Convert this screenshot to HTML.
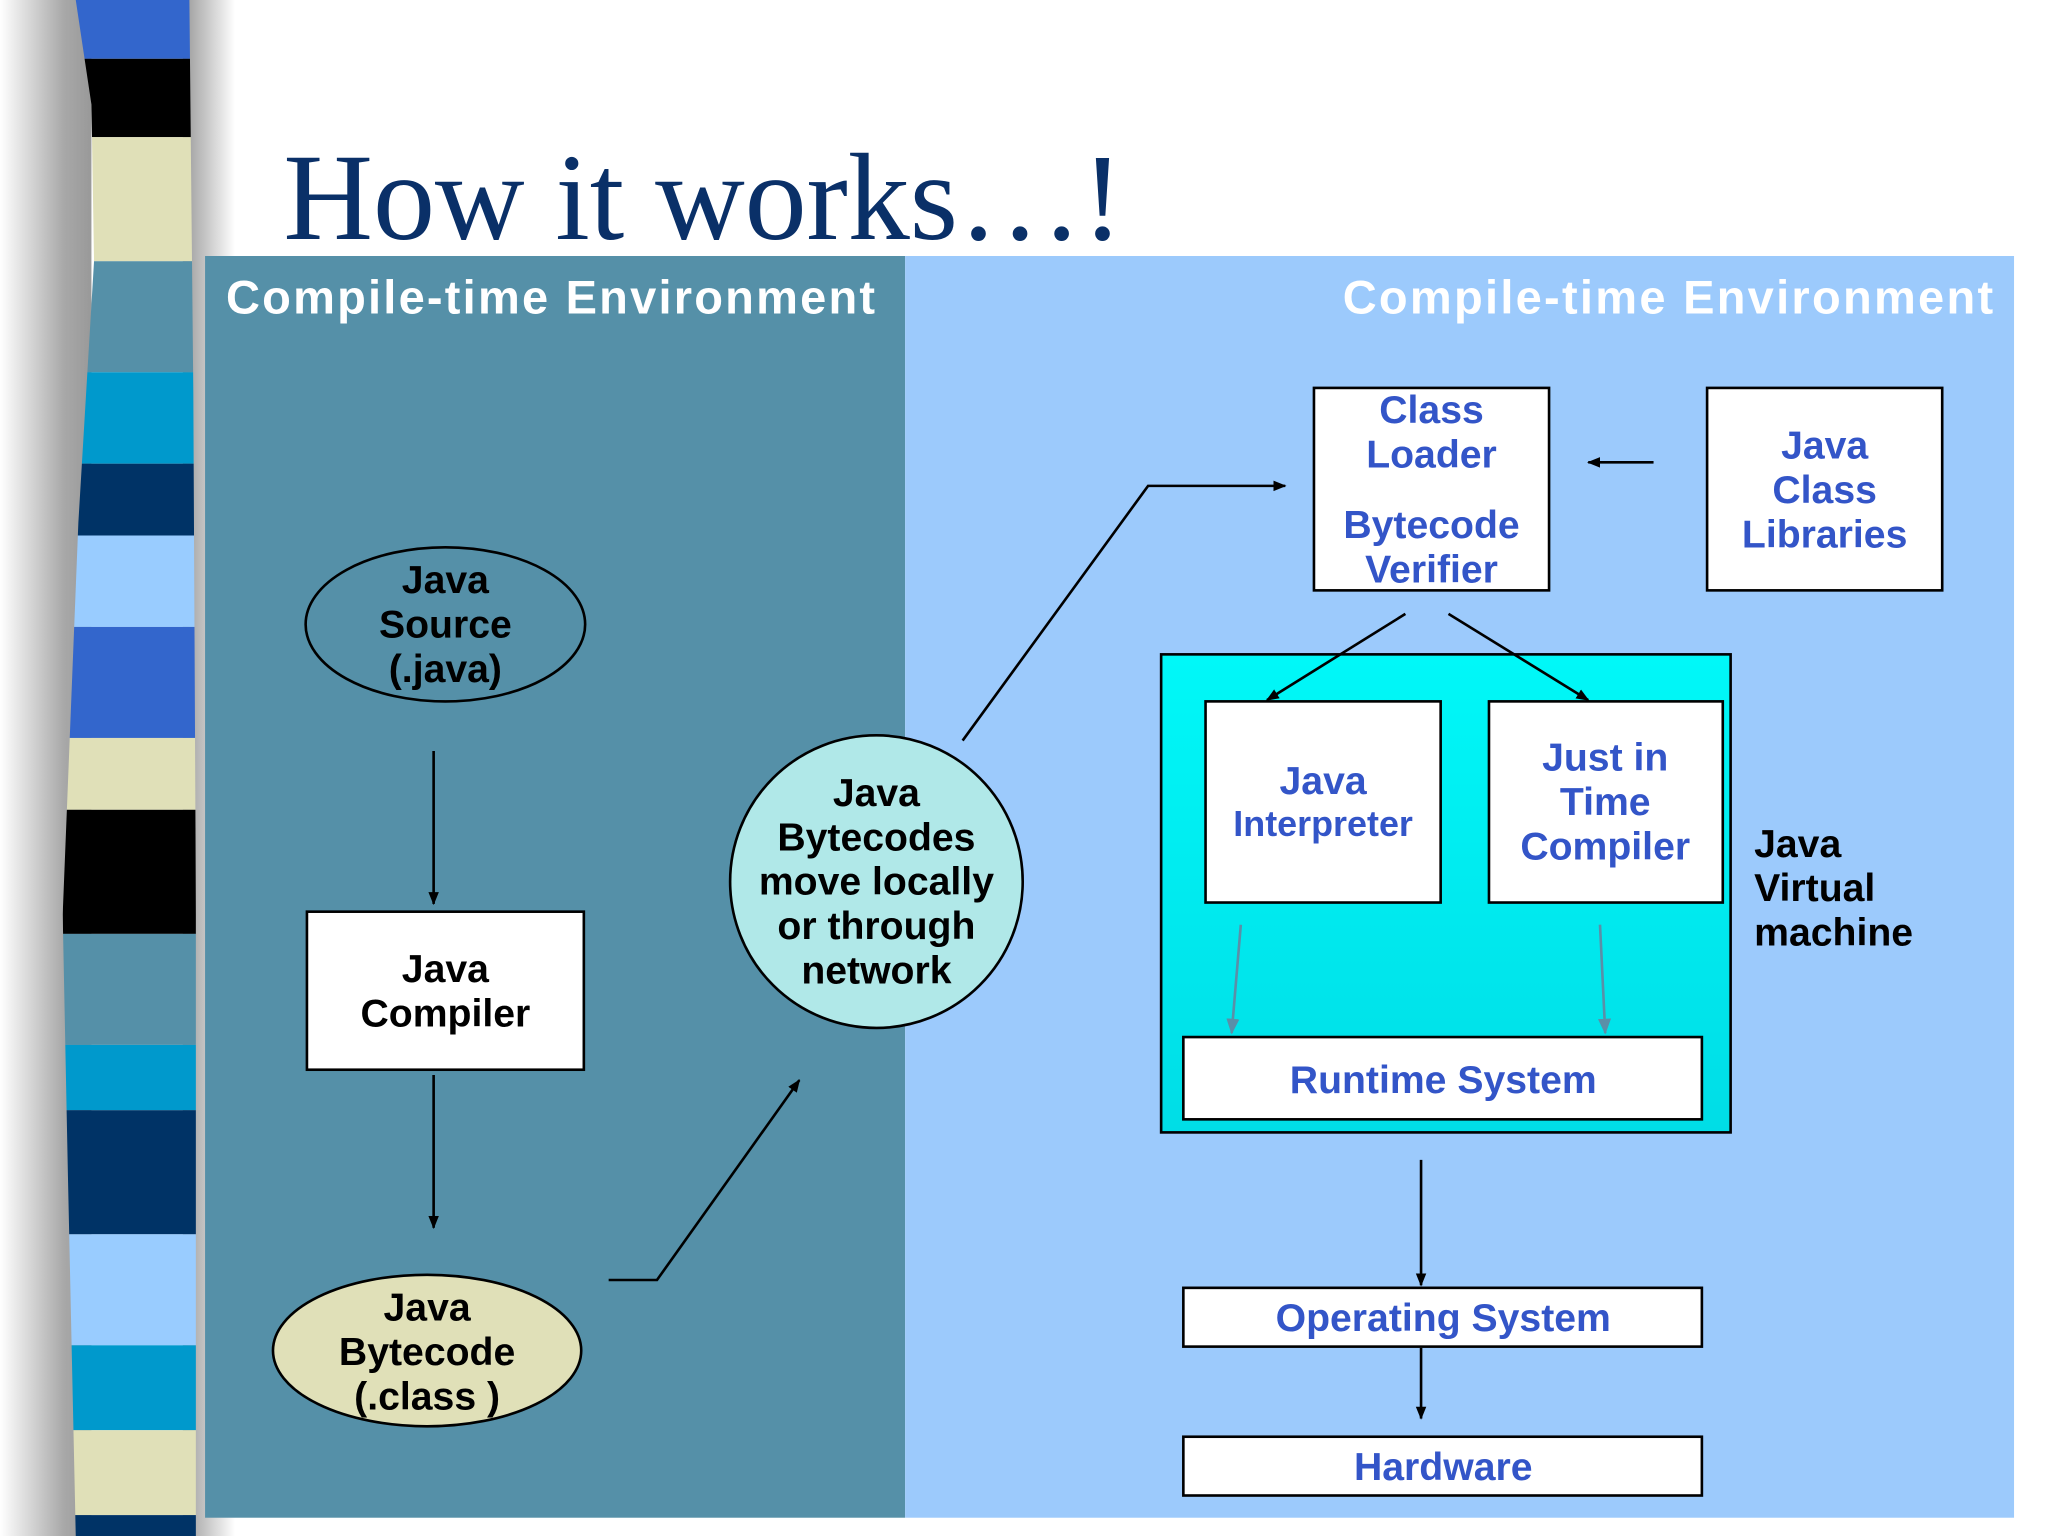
<!DOCTYPE html>
<html><head><meta charset="utf-8"><style>html,body{margin:0;padding:0;background:#fff}svg{display:block}</style></head>
<body>
<svg width="2048" height="1536" viewBox="0 0 1568 1176" xmlns="http://www.w3.org/2000/svg" font-family="Liberation Sans, sans-serif">
<defs>
<linearGradient id="sh" x1="0" x2="1"><stop offset="0" stop-color="#fff"/><stop offset="0.7" stop-color="#a8a8a8"/><stop offset="1" stop-color="#999"/></linearGradient>
<linearGradient id="sh2" x1="0" x2="1"><stop offset="0" stop-color="#999"/><stop offset="1" stop-color="#fff"/></linearGradient>
<linearGradient id="jvm" x1="0" y1="0" x2="0" y2="1"><stop offset="0" stop-color="#00f8f8"/><stop offset="1" stop-color="#00dde6"/></linearGradient>
<clipPath id="col"><path d="M58 0 L145 0 L148 300 L150 700 L150 1176 L58 1176 L52 900 L48 700 L60 400 L72 200 L70 80 Z"/></clipPath>
<marker id="ar" markerWidth="10" markerHeight="10" refX="9" refY="5" orient="auto" markerUnits="userSpaceOnUse"><path d="M0 1 L10 5 L0 9 Z" fill="#000"/></marker>
<marker id="ag" markerWidth="12" markerHeight="12" refX="11" refY="6" orient="auto" markerUnits="userSpaceOnUse"><path d="M0 1 L12 6 L0 11 Z" fill="#5a8fa8"/></marker>
</defs>
<rect x="0" y="0" width="1568" height="1176" fill="#fff"/>
<rect x="0" y="0" width="70" height="1176" fill="url(#sh)"/>
<rect x="140" y="0" width="40" height="1176" fill="url(#sh2)"/>
<g clip-path="url(#col)">
<rect x="40" y="0" width="120" height="45" fill="#3366cc"/>
<rect x="40" y="45" width="120" height="60" fill="#000"/>
<rect x="40" y="105" width="120" height="95" fill="#e0e0b8"/>
<rect x="40" y="200" width="120" height="85" fill="#5590a8"/>
<rect x="40" y="285" width="120" height="70" fill="#0099cc"/>
<rect x="40" y="355" width="120" height="55" fill="#003366"/>
<rect x="40" y="410" width="120" height="70" fill="#99ccff"/>
<rect x="40" y="480" width="120" height="85" fill="#3366cc"/>
<rect x="40" y="565" width="120" height="55" fill="#e0e0b8"/>
<rect x="40" y="620" width="120" height="95" fill="#000"/>
<rect x="40" y="715" width="120" height="85" fill="#5590a8"/>
<rect x="40" y="800" width="120" height="50" fill="#0099cc"/>
<rect x="40" y="850" width="120" height="95" fill="#003366"/>
<rect x="40" y="945" width="120" height="85" fill="#99ccff"/>
<rect x="40" y="1030" width="120" height="65" fill="#0099cc"/>
<rect x="40" y="1095" width="120" height="65" fill="#e0e0b8"/>
<rect x="40" y="1160" width="120" height="16" fill="#003366"/>
</g>
<text x="217" y="183" font-family="Liberation Serif, serif" font-size="95" fill="#0a3068" textLength="643">How it works…!</text>
<rect x="157" y="196" width="536" height="966" fill="#5590a8"/>
<rect x="693" y="196" width="849" height="966" fill="#9ccafc"/>
<text x="173" y="240" font-size="36" font-weight="bold" fill="#fff" textLength="497">Compile-time Environment</text>
<text x="1028" y="240" font-size="36" font-weight="bold" fill="#fff" textLength="498">Compile-time Environment</text>

<g font-weight="bold" font-size="30" text-anchor="middle">
<ellipse cx="341" cy="478" rx="107" ry="59" fill="#5590a8" stroke="#000" stroke-width="2"/>
<text x="341" y="454">Java</text><text x="341" y="488">Source</text><text x="341" y="522">(.java)</text>
<line x1="332" y1="575" x2="332" y2="692" stroke="#000" stroke-width="2" marker-end="url(#ar)"/>
<rect x="235" y="698" width="212" height="121" fill="#fff" stroke="#000" stroke-width="2"/>
<text x="341" y="752">Java</text><text x="341" y="786">Compiler</text>
<line x1="332" y1="823" x2="332" y2="940" stroke="#000" stroke-width="2" marker-end="url(#ar)"/>
<ellipse cx="327" cy="1034" rx="118" ry="58" fill="#e0e0b8" stroke="#000" stroke-width="2"/>
<text x="327" y="1011">Java</text><text x="327" y="1045">Bytecode</text><text x="327" y="1079">(.class )</text>
<polyline points="466,980 503,980 612,827" fill="none" stroke="#000" stroke-width="2" marker-end="url(#ar)"/>
<circle cx="671" cy="675" r="112" fill="#b0e8e8" stroke="#000" stroke-width="2"/>
<text x="671" y="617">Java</text><text x="671" y="651">Bytecodes</text><text x="671" y="685">move locally</text><text x="671" y="719">or through</text><text x="671" y="753">network</text>
<polyline points="737,567 879,372 984,372" fill="none" stroke="#000" stroke-width="2" marker-end="url(#ar)"/>

<g fill="#3355c8">
<rect x="1006" y="297" width="180" height="155" fill="#fff" stroke="#000" stroke-width="2"/>
<text x="1096" y="324">Class</text><text x="1096" y="358">Loader</text><text x="1096" y="412">Bytecode</text><text x="1096" y="446">Verifier</text>
<rect x="1307" y="297" width="180" height="155" fill="#fff" stroke="#000" stroke-width="2"/>
<text x="1397" y="351">Java</text><text x="1397" y="385">Class</text><text x="1397" y="419">Libraries</text>
</g>
<line x1="1266" y1="354" x2="1216" y2="354" stroke="#000" stroke-width="2" marker-end="url(#ar)"/>
<rect x="889" y="501" width="436" height="366" fill="url(#jvm)" stroke="#000" stroke-width="2"/>
<line x1="1076" y1="470" x2="970" y2="536" stroke="#000" stroke-width="2" marker-end="url(#ar)"/>
<line x1="1109" y1="470" x2="1216" y2="536" stroke="#000" stroke-width="2" marker-end="url(#ar)"/>
<g fill="#3355c8">
<rect x="923" y="537" width="180" height="154" fill="#fff" stroke="#000" stroke-width="2"/>
<text x="1013" y="608">Java</text><text x="1013" y="640" font-size="27.5">Interpreter</text>
<rect x="1140" y="537" width="179" height="154" fill="#fff" stroke="#000" stroke-width="2"/>
<text x="1229" y="590">Just in</text><text x="1229" y="624">Time</text><text x="1229" y="658">Compiler</text>
</g>
<line x1="950" y1="708" x2="943" y2="791" stroke="#5a8fa8" stroke-width="2" marker-end="url(#ag)"/>
<line x1="1225" y1="708" x2="1229" y2="791" stroke="#5a8fa8" stroke-width="2" marker-end="url(#ag)"/>
<rect x="906" y="794" width="397" height="63" fill="#fff" stroke="#000" stroke-width="2"/>
<text x="1105" y="837" fill="#3355c8">Runtime System</text>
<g text-anchor="start"><text x="1343" y="656">Java</text><text x="1343" y="690">Virtual</text><text x="1343" y="724">machine</text></g>
<line x1="1088" y1="888" x2="1088" y2="984" stroke="#000" stroke-width="2" marker-end="url(#ar)"/>
<rect x="906" y="986" width="397" height="45" fill="#fff" stroke="#000" stroke-width="2"/>
<text x="1105" y="1019" fill="#3355c8">Operating System</text>
<line x1="1088" y1="1032" x2="1088" y2="1086" stroke="#000" stroke-width="2" marker-end="url(#ar)"/>
<rect x="906" y="1100" width="397" height="45" fill="#fff" stroke="#000" stroke-width="2"/>
<text x="1105" y="1133" fill="#3355c8">Hardware</text>
</g>
</svg>
</body></html>
